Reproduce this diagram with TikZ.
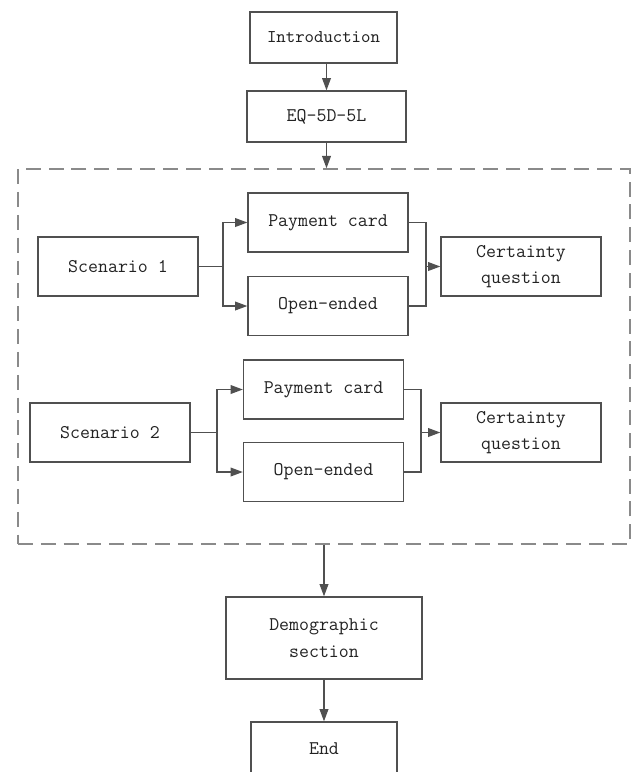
\documentclass[tikz,border=0pt]{standalone}
\usepackage{xcolor}
\usepackage{tikz}
\usetikzlibrary{shapes,arrows,positioning,calc,arrows.meta}
\definecolor{linegray}{HTML}{505050}
\definecolor{dashgray}{HTML}{8A8A8A}
\definecolor{textgray}{HTML}{222222}
\tikzset{
    box/.style={draw=linegray, line width=0.75pt, fill=white, align=center,
        text=textgray, font=\fontsize{11}{15}\selectfont\ttfamily,
        minimum width=3.2cm, minimum height=1.18cm, inner sep=2pt},
    conn/.style={draw=linegray, line width=0.75pt},
    arr/.style={conn, -{Triangle[length=7pt,width=5pt]}}
}

\begin{document}
\begin{tikzpicture}
    \useasboundingbox (0,0) rectangle (12.64,-15.44);

    % Top of the survey
    \node[box, minimum width=2.94cm, minimum height=1.02cm,
        font=\fontsize{10.2}{12}\selectfont\ttfamily] (intro) at (6.47,-0.75) {Introduction};
    \node[box, minimum width=3.18cm, minimum height=1.02cm] (eq) at (6.53,-2.33) {EQ-5D-5L};

    % Dashed frame round both scenarios
    \node[draw=dashgray, line width=0.85pt, dash pattern=on 8.5pt off 4.5pt,
        minimum width=12.24cm, minimum height=7.50cm, inner sep=0pt] (grp) at (6.48,-7.13) {};

    % Scenario 1
    \node[box] (scen1) at (2.36,-5.33) {Scenario 1};
    \node[box] (pc1) at (6.56,-4.45) {Payment card};
    \node[box] (oe1) at (6.56,-6.12) {Open-ended};
    \node[box] (cq1) at (10.42,-5.33) {Certainty\\question};

    % Scenario 2
    \node[box] (scen2) at (2.20,-8.65) {Scenario 2};
    \node[box] (pc2) at (6.47,-7.79) {Payment card};
    \node[box] (oe2) at (6.47,-9.44) {Open-ended};
    \node[box] (cq2) at (10.42,-8.65) {Certainty\\question};

    % After the scenarios
    \node[box, minimum width=3.92cm, minimum height=1.64cm] (demo) at (6.48,-12.76) {Demographic\\section};
    \node[box, minimum width=2.92cm, minimum height=1.06cm] (end) at (6.48,-14.97) {End};

    % Main line
    \draw[arr] (intro.south -| eq.south) -- (eq.north);
    \draw[arr] (eq.south) -- (eq.south |- grp.north);
    \draw[arr] (grp.south -| demo.north) -- (demo.north);
    \draw[arr] (demo.south) -- (end.north);

    % Branches of scenario 1
    \coordinate (b1) at (4.46,-5.33);
    \coordinate (m1) at (8.52,-5.33);
    \draw[conn] (scen1.east) -- (b1);
    \draw[arr] (b1) |- (pc1.west);
    \draw[arr] (b1) |- (oe1.west);
    \draw[conn] (pc1.east) -| (m1);
    \draw[conn] (oe1.east) -| (m1);
    \draw[arr] (m1) -- (cq1.west);

    % Branches of scenario 2
    \coordinate (b2) at (4.34,-8.65);
    \coordinate (m2) at (8.42,-8.65);
    \draw[conn] (scen2.east) -- (b2);
    \draw[arr] (b2) |- (pc2.west);
    \draw[arr] (b2) |- (oe2.west);
    \draw[conn] (pc2.east) -| (m2);
    \draw[conn] (oe2.east) -| (m2);
    \draw[arr] (m2) -- (cq2.west);
\end{tikzpicture}
\end{document}
